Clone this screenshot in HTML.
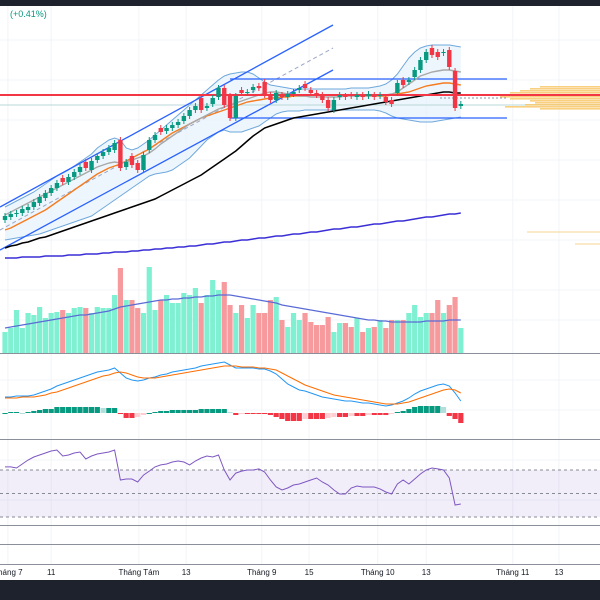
<!DOCTYPE html>
<html><head><meta charset="utf-8"><style>
html,body{margin:0;padding:0;background:#fff;width:600px;height:600px;overflow:hidden;font-family:"Liberation Sans",sans-serif}
svg{display:block}
</style></head><body>
<svg id="c" width="600" height="600" viewBox="0 0 600 600">
<rect x="0" y="0" width="600" height="600" fill="#ffffff"/>
<g id="grid"></g>
<g id="price"></g>
<g id="vol"></g>
<g id="macd"></g>
<g id="rsi"></g>
<g id="axis"></g>
<rect x="0" y="0" width="600" height="6" fill="#1e222d"/>
<text x="10" y="17" font-size="9" fill="#089981">(+0.41%)</text>
<rect x="0" y="580" width="600" height="20" fill="#1e222d"/>
</svg>
<script>
// ---- data ----
const opens  = [80,83,86,87,90,93,97,102,107,112,122,118,123,128,138,130,140,144,148,150,160,133,144,137,130,150,160,172,169,172,175,179,184,190,202,192,196,203,212,204,182,210,207,210,214,218,205,200,205,203,206,210,216,210,207,205,200,190,203,204,205,203,205,204,205,204,203,200,207,220,218,223,230,240,252,248,247,250,229,194];
const closes = [84,86,87,91,93,98,103,107,112,117,118,123,128,133,132,139,144,148,152,157,132,138,135,130,145,160,165,168,172,175,178,184,190,194,190,194,202,212,195,182,204,207,208,213,212,205,200,207,203,206,208,212,212,207,205,200,192,200,205,203,204,205,203,206,203,205,198,196,217,215,220,230,240,248,245,243,248,233,192,196];
const volumes = [21,25,43,25,40,38,46,35,40,41,43,40,45,46,45,40,46,45,45,58,85,53,53,45,40,86,43,53,58,50,50,60,58,65,50,58,73,63,71,48,40,48,35,48,40,40,53,56,33,26,40,33,40,31,28,28,36,21,30,30,26,35,21,25,26,33,25,33,33,33,40,48,36,40,40,53,40,48,56,25];
const volMA = [25,26,27,28,29,30,31,32,33,34,35,36,37,38,38,39,40,41,42,44,46,47,48,49,50,51,52,53,53,54,54,55,55,56,56,57,57,58,58,58,57,56,55,54,53,52,51,50,48,47,46,45,44,43,42,41,40,39,38,37,36,35,34,33,33,32,32,31,31,31,31,31,31,32,32,32,32,33,33,33];
const macdLine = [16,16,17,17,17,18,20,22,24,27,29,31,33,35,37,39,41,42,43,45,40,35,33,32,33,35,36,38,39,41,42,43,44,45,47,48,49,50,51,48,45,45,45,45,44,44,42,39,34,29,26,23,22,20,18,16,15,14,13,12,12,11,10,10,9,8,7,8,10,12,15,19,22,24,26,28,29,27,20,12];
const signalLine = [15,15,15,16,16,16,17,18,20,21,23,25,27,29,31,33,35,37,38,40,41,40,38,36,35,35,35,36,37,38,39,40,41,42,43,44,45,46,47,47,47,46,46,46,45,45,44,43,40,37,34,31,28,26,24,22,20,18,17,16,15,14,13,12,11,10,9,9,9,10,11,13,15,17,19,21,23,24,23,20];
const histogram = [0,1,1,0,1,2,3,4,4,6,6,6,6,6,6,6,6,5,5,5,-1,-5,-5,-4,-2,0,1,2,2,3,3,3,3,3,4,4,4,4,4,1,-2,-1,-1,-1,-1,-1,-2,-4,-6,-8,-8,-8,-6,-6,-6,-6,-5,-4,-4,-4,-3,-3,-3,-2,-2,-2,-2,-1,1,2,4,6,7,7,7,7,6,-3,-6,-10];
const rsiValues = [72.6,72.6,71.7,75.1,78.5,81.1,82.8,84.5,86.2,87,81.9,82.8,84.5,85.3,79.4,81.9,83.6,84.5,85.3,87,61.5,62.3,62.3,59.8,65.7,69.1,72.6,74.3,75.1,76.8,77.7,76.8,74.3,77.7,80.2,81.9,81.1,82.8,70,61.5,67.4,69.1,70,70,70.9,68.3,61.5,55.5,53,54.7,57.2,58.1,59.8,61.5,63.2,59.8,57.2,53,49.6,49.6,54.7,56.4,55.5,55.5,55.5,53.9,51.3,49.6,58.1,61.5,58.1,62.3,66.6,70,71.7,70.9,70,63.2,40.2,41.1];
const maBlack = [52,54,55,57,58,60,62,63,65,67,69,71,73,75,77,79,81,83,85,87,89,91,93,95,97,99,101,104,107,110,113,116,119,122,125,129,133,137,141,145,149,154,159,164,168,172,174,176,178,180,182,183,184,185,186,187,188,189,190,191,192,193,194,195,196,197,198,199,200,201,202,203,204,205,206,207,208,208,207,207];
const maOrange = [70,72,75,78,81,84,87,90,94,98,102,106,110,114,118,122,126,129,132,134,136,139,142,145,148,151,155,159,163,167,170,173,176,179,182,184,186,188,190,192,194,196,198,199,200,201,202,202,203,203,204,204,204,205,205,205,205,205,205,205,205,205,204,204,204,204,204,205,206,207,208,210,212,214,215,216,217,217,216,215];
const ma20 = [85,88,91,94,97,100,103,106,109,112,115,118,121,124,127,130,133,135,137,138,137,138,140,142,144,147,151,156,160,164,168,172,176,179,182,185,188,191,193,195,197,199,201,203,205,207,208,208,207,206,205,204,204,203,203,203,203,203,203,204,204,204,204,204,204,205,205,206,208,212,216,220,224,226,228,229,230,230,229,228];
const bbUpper = [93,96,99,102,105,108,112,116,120,124,127,130,134,138,142,146,152,156,160,162,160,152,150,152,156,160,165,170,175,180,185,190,195,200,205,210,215,220,224,226,227,228,228,226,222,218,215,214,213,212,211,211,211,211,211,211,211,211,211,211,212,212,212,212,213,214,216,220,226,234,242,248,252,254,255,255,255,255,254,253];
const bbLower = [60,61,62,63,64,65,66,68,70,72,74,76,78,80,82,84,88,92,96,100,104,108,112,116,120,124,126,127,128,130,134,138,142,148,154,160,164,168,170,168,168,168,170,172,174,178,182,186,188,189,189,189,190,190,190,190,190,190,190,190,190,190,190,190,190,189,187,184,182,181,180,179,178,178,178,179,180,181,182,183];
const maLong = [42,42,42,43,43,43,43,44,44,44,44,45,45,45,46,46,46,47,47,48,48,48,49,49,50,50,51,51,52,52,53,53,54,54,55,56,56,57,58,58,59,60,60,61,62,62,63,64,64,65,66,66,67,68,68,69,70,71,71,72,73,73,74,75,76,76,77,78,79,79,80,81,82,83,83,84,85,86,86,87];
const dateLabels = ["Tháng 7","11","Tháng Tám","13","Tháng 9","15","Tháng 10","13","Tháng 11","13"];
const dateIndex = [0.5,8,23.2,31.4,44.5,52.7,64.6,73,88,96];

// ---- scales ----
const NS="http://www.w3.org/2000/svg";
const xAt = i => 5 + i*5.77;
const yPrice = p => 300 - p;
const yVol = v => 353 - v;
const yMacd = v => 413 - v;
const yRsi = r => 493.5 - (r-50)*1.175;
function mk(tag, attrs, parent){const e=document.createElementNS(NS,tag);for(const k in attrs)e.setAttribute(k,attrs[k]);parent.appendChild(e);return e;}
function path(arr, fx, fy){return arr.map((v,i)=>(i?'L':'M')+fx(i).toFixed(1)+' '+fy(v).toFixed(1)).join(' ');}

const grid=document.getElementById('grid');
for(let k=0;k<dateIndex.length;k++){
  const l=mk('line',{x1:xAt(dateIndex[k]),x2:xAt(dateIndex[k]),y1:6,y2:564,stroke:'#f2f4f8','stroke-width':1},grid);
  
  
}
[40,80,120,160,200,240,290,320,380,410,460,500].forEach(y=>{
  const l=mk('line',{x1:0,x2:600,y1:y,y2:y,stroke:'#f2f4f8','stroke-width':1},grid);
  
  
});

// ---- price pane ----
const pg=document.getElementById('price');
let bb=path(bbUpper,xAt,yPrice)+' '+bbLower.map((v,i)=>'L'+xAt(bbLower.length-1-i).toFixed(1)+' '+yPrice(bbLower[bbLower.length-1-i]).toFixed(1)).join(' ')+'Z';
let e=mk('path',{d:bb,fill:'#e3f0fb','fill-opacity':0.6,stroke:'none'},pg);

e=mk('path',{d:path(bbUpper,xAt,yPrice),fill:'none',stroke:'#6fa8dc','stroke-width':1},pg);

e=mk('path',{d:path(bbLower,xAt,yPrice),fill:'none',stroke:'#6fa8dc','stroke-width':1},pg);

e=mk('line',{x1:0,x2:600,y1:105,y2:105,stroke:'#b8d8d8','stroke-width':1},pg);

const vpY=[86,88,90,92,94,96,98,100,102,104,106,108];
const vpLen=[60,70,80,90,95,100,90,70,65,75,95,60];
vpY.forEach((y,k)=>{
  const r=mk('rect',{x:600-vpLen[k],y:y,width:vpLen[k],height:1.6,fill:'#f7c45f','fill-opacity':0.8},pg);
  
  
});
e=mk('line',{x1:527,x2:600,y1:232,y2:232,stroke:'#f7d68f','stroke-width':1},pg);

e=mk('line',{x1:575,x2:600,y1:244,y2:244,stroke:'#f7d68f','stroke-width':1},pg);

e=mk('line',{x1:0,y1:207,x2:333,y2:25,stroke:'#2962ff','stroke-width':1.3},pg);

e=mk('line',{x1:0,y1:250,x2:333,y2:70,stroke:'#2962ff','stroke-width':1.3},pg);

e=mk('line',{x1:0,y1:230,x2:333,y2:48,stroke:'#9aa7c7','stroke-width':1,'stroke-dasharray':'4 3'},pg);

e=mk('line',{x1:230,y1:79,x2:507,y2:79,stroke:'#2962ff','stroke-width':1.3},pg);

e=mk('line',{x1:230,y1:118,x2:507,y2:118,stroke:'#2962ff','stroke-width':1.3},pg);

e=mk('path',{d:path(maLong,xAt,yPrice),fill:'none',stroke:'#3a2fd6','stroke-width':1.5},pg);

e=mk('path',{d:path(maBlack,xAt,yPrice),fill:'none',stroke:'#000','stroke-width':1.5},pg);

e=mk('path',{d:path(maOrange,xAt,yPrice),fill:'none',stroke:'#f57c1f','stroke-width':1.4},pg);

e=mk('path',{d:path(ma20,xAt,yPrice),fill:'none',stroke:'#a8a8a8','stroke-width':1.4},pg);

e=mk('line',{x1:0,x2:600,y1:95,y2:95,stroke:'#f23645','stroke-width':2},pg);

e=mk('line',{x1:440,x2:507,y1:98,y2:98,stroke:'#8a93a6','stroke-width':1,'stroke-dasharray':'2 2'},pg);

for(let i=0;i<opens.length;i++){
  const up=closes[i]>=opens[i];
  const col=up?'#089981':'#f23645';
  const hi=Math.max(opens[i],closes[i]), lo=Math.min(opens[i],closes[i]);
  const x=xAt(i);
  const w=mk('line',{x1:x,x2:x,y1:yPrice(hi)-3,y2:yPrice(lo)+3,stroke:col,'stroke-width':1},pg);
  
  
  const b=mk('rect',{x:x-2.2,y:yPrice(hi),width:4.4,height:Math.max(1,hi-lo),fill:col},pg);
  
  
}

// ---- volume ----
const vg=document.getElementById('vol');
for(let i=0;i<volumes.length;i++){
  const up=closes[i]>=opens[i];
  const r=mk('rect',{x:xAt(i)-2.6,y:yVol(volumes[i]),width:5.2,height:volumes[i],fill:up?'#7ff0d2':'#f79a9e'},vg);
  
  
}
e=mk('path',{d:path(volMA,xAt,yVol),fill:'none',stroke:'#5b6bd6','stroke-width':1.2},vg);

e=mk('line',{x1:0,x2:600,y1:353.5,y2:353.5,stroke:'#8a8f99','stroke-width':1},vg);


// ---- macd ----
const mg=document.getElementById('macd');
for(let i=0;i<histogram.length;i++){
  const v=histogram[i], p=i?histogram[i-1]:0;
  let col;
  if(v>=0) col = v>=p ? '#089981' : '#b2dfdb'; else col = v<=p ? '#f23645' : '#ffcdd2';
  const r=mk('rect',{x:xAt(i)-2.6,y:v>=0?yMacd(v):yMacd(0),width:5.2,height:Math.max(1,Math.abs(v)),fill:col},mg);
  
  
}
e=mk('path',{d:path(macdLine,xAt,yMacd),fill:'none',stroke:'#2196f3','stroke-width':1},mg);

e=mk('path',{d:path(signalLine,xAt,yMacd),fill:'none',stroke:'#ff6d00','stroke-width':1},mg);

e=mk('line',{x1:0,x2:600,y1:439.5,y2:439.5,stroke:'#8a8f99','stroke-width':1},mg);


// ---- rsi ----
const rg=document.getElementById('rsi');
e=mk('rect',{x:0,y:yRsi(70),width:600,height:yRsi(30)-yRsi(70),fill:'#7e57c2','fill-opacity':0.1},rg);

[70,50,30].forEach(l=>{
  const d=mk('line',{x1:0,x2:600,y1:yRsi(l),y2:yRsi(l),stroke:'#878b94','stroke-width':1,'stroke-dasharray':'3 3'},rg);
  
  
});
e=mk('path',{d:path(rsiValues,xAt,yRsi),fill:'none',stroke:'#7e57c2','stroke-width':1},rg);

e=mk('line',{x1:0,x2:600,y1:525.5,y2:525.5,stroke:'#8a8f99','stroke-width':1},rg);

e=mk('line',{x1:0,x2:600,y1:544.5,y2:544.5,stroke:'#8a8f99','stroke-width':1},rg);


// ---- time axis ----
const ag=document.getElementById('axis');
e=mk('line',{x1:0,x2:600,y1:564.5,y2:564.5,stroke:'#8a8f99','stroke-width':1},ag);

for(let k=0;k<dateLabels.length;k++){
  const t=mk('text',{x:xAt(dateIndex[k]),y:575,'font-size':8,fill:'#131722','text-anchor':'middle'},ag);
  t.textContent=dateLabels[k];
  
  
}
</script>
</body></html>
